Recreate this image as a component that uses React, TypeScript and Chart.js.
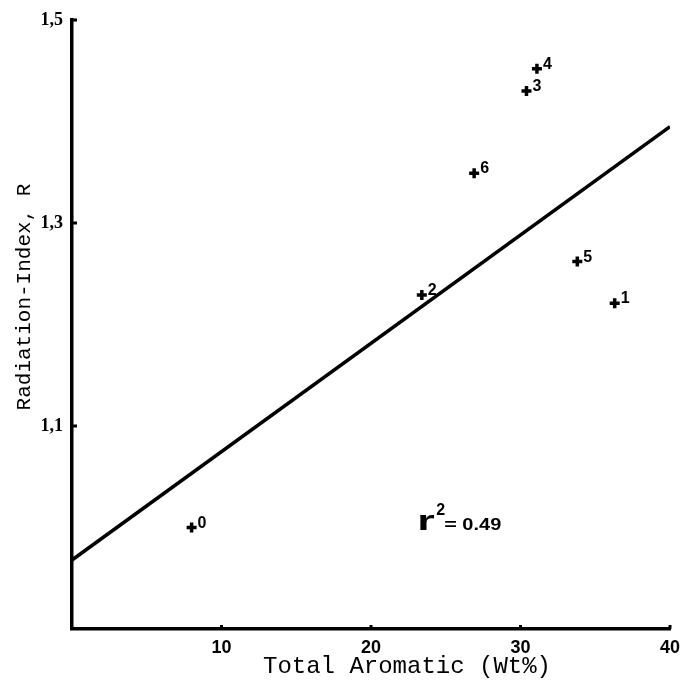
import React, { useEffect, useRef } from "react";
import { Chart, registerables } from "chart.js";

Chart.register(...registerables);

const pointLabels = ["0", "2", "6", "3", "4", "5", "1"];
const aromatic = [8.0, 23.4, 26.9, 30.4, 31.1, 33.8, 36.3];
const radiationIndex = [1.0, 1.229, 1.349, 1.43, 1.452, 1.262, 1.221];
const fitX = [0, 40];
const fitY = [0.968, 1.395];
const xTicks = [10, 20, 30, 40];
const yTicks = [1.1, 1.3, 1.5];
const rSquared = "0.49";

const MONO = "'Liberation Mono', 'Courier New', monospace";
const BOLD = "'Liberation Sans', Arial, sans-serif";

const annotate = {
  id: "annotate",
  afterDraw(chart: any) {
    const ctx = chart.ctx;
    const xs = chart.scales.x;
    const ys = chart.scales.y;
    const area = chart.chartArea;
    ctx.save();
    ctx.fillStyle = "#000";
    ctx.strokeStyle = "#000";
    // inward ticks
    ctx.lineWidth = 3;
    xTicks.forEach((v) => {
      const px = xs.getPixelForValue(v);
      ctx.beginPath();
      ctx.moveTo(px, area.bottom);
      ctx.lineTo(px, area.bottom - 4);
      ctx.stroke();
    });
    yTicks.forEach((v) => {
      const py = ys.getPixelForValue(v);
      ctx.beginPath();
      ctx.moveTo(area.left, py);
      ctx.lineTo(area.left + 5, py);
      ctx.stroke();
    });
    // point labels
    ctx.font = `bold 16px ${BOLD}`;
    ctx.textAlign = "left";
    ctx.textBaseline = "alphabetic";
    aromatic.forEach((x, i) => {
      const px = xs.getPixelForValue(x);
      const py = ys.getPixelForValue(radiationIndex[i]);
      ctx.fillText(pointLabels[i], px + 6, py);
    });
    // r^2 annotation
    const rx = xs.getPixelForValue(23.1);
    const ry = ys.getPixelForValue(0.9975);
    ctx.save();
    ctx.translate(rx, ry);
    ctx.scale(1.6, 1);
    ctx.font = `bold 28px ${BOLD}`;
    ctx.fillText("r", 0, 0);
    ctx.restore();
    ctx.font = `bold 16px ${BOLD}`;
    ctx.fillText("2", rx + 19, ry - 15);
    ctx.save();
    ctx.translate(rx + 27, ry);
    ctx.scale(1.35, 1);
    ctx.font = `bold 16px ${BOLD}`;
    ctx.fillText("=", 0, 0);
    ctx.restore();
    ctx.save();
    ctx.translate(rx + 45, ry);
    ctx.scale(1.25, 1);
    ctx.font = `bold 16px ${BOLD}`;
    ctx.fillText(rSquared, 0, 0);
    ctx.restore();
    // axis titles
    ctx.font = `24px ${MONO}`;
    ctx.textAlign = "center";
    ctx.textBaseline = "middle";
    ctx.fillText("Total Aromatic (Wt%)", 407, 667);
    ctx.save();
    ctx.translate(24, 297);
    ctx.rotate(-Math.PI / 2);
    ctx.font = `21px ${MONO}`;
    ctx.fillText("Radiation-Index, R", 0, 0);
    ctx.restore();
    ctx.restore();
  },
};

export default function App() {
  const ref = useRef<HTMLCanvasElement>(null);
  useEffect(() => {
    if (!ref.current) return;
    const chart = new Chart(ref.current, {
      type: "scatter",
      data: {
        datasets: [
          {
            type: "line",
            data: fitX.map((x, i) => ({ x, y: fitY[i] })),
            borderColor: "#000",
            borderWidth: 3.5,
            pointRadius: 0,
            fill: false,
          } as any,
          {
            data: aromatic.map((x, i) => ({ x, y: radiationIndex[i] })),
            pointStyle: "cross",
            pointRadius: 5,
            borderColor: "#000",
            backgroundColor: "#000",
            pointBorderWidth: 3.5,
          } as any,
        ],
      },
      plugins: [annotate],
      options: {
        animation: false,
        responsive: false,
        layout: { padding: { top: 20, right: 16, left: 0, bottom: 0 } },
        plugins: { legend: { display: false }, tooltip: { enabled: false } },
        scales: {
          x: {
            type: "linear",
            min: 0,
            max: 40,
            afterBuildTicks: (s: any) => {
              s.ticks = xTicks.map((v) => ({ value: v }));
            },
            afterFit: (s: any) => {
              s.height = 58;
            },
            grid: { display: false },
            border: { display: true, color: "#000", width: 3.5 },
            ticks: {
              color: "#000",
              font: { family: BOLD, size: 18, weight: "bold" },
              padding: 0,
            },
          },
          y: {
            type: "linear",
            min: 0.9,
            max: 1.5,
            afterBuildTicks: (s: any) => {
              s.ticks = yTicks.map((v) => ({ value: v }));
            },
            afterFit: (s: any) => {
              s.width = 72;
            },
            grid: { display: false },
            border: { display: true, color: "#000", width: 3.5 },
            ticks: {
              color: "#000",
              font: { family: "'Liberation Serif', serif", size: 18, weight: "bold" },
              padding: 1,
              callback: (v: any) => Number(v).toFixed(1).replace(".", ","),
            },
          },
        },
      } as any,
    });
    return () => chart.destroy();
  }, []);
  return (
    <div style={{ position: "absolute", left: 0, top: 0, width: 686, height: 687, background: "#fff" }}>
      <canvas ref={ref} width={686} height={687} style={{ width: 686, height: 687 }} />
    </div>
  );
}
